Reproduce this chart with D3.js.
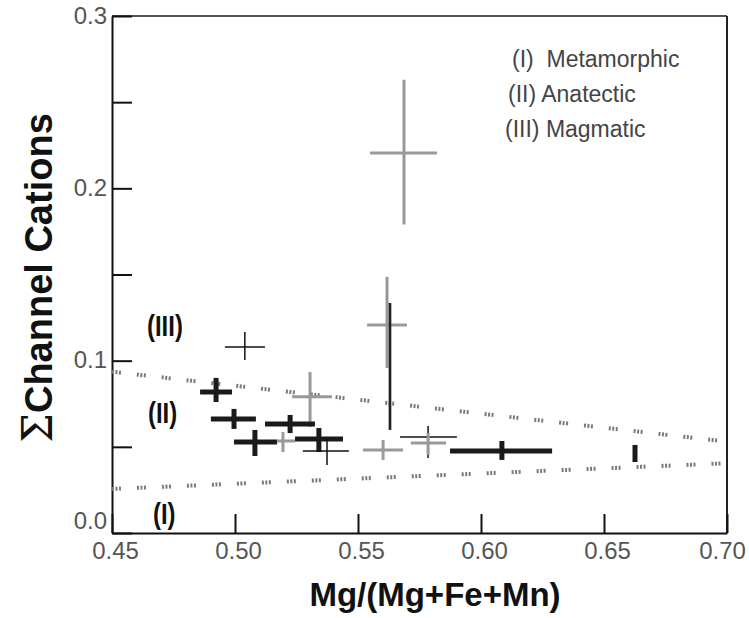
<!DOCTYPE html>
<html><head><meta charset="utf-8">
<script src="https://cdn.jsdelivr.net/npm/d3@7"></script>
<style>body{margin:0;background:#fff}svg{display:block}</style>
</head><body>
<script>
// ---- data ----
const xCenter = [0.5687,0.5618,0.5630,0.5040,0.4923,0.5305,0.4996,0.5224,0.5081,0.5195,0.5341,0.5374,0.5602,0.5785,0.5785,0.6085,0.6626];
const xLow    = [0.5549,0.5537,0.5630,0.4959,0.4858,0.5232,0.4902,0.5122,0.4996,0.5170,0.5244,0.5276,0.5520,0.5671,0.5715,0.5874,0.6626];
const xHigh   = [0.5821,0.5699,0.5630,0.5122,0.4988,0.5394,0.5085,0.5325,0.5171,0.5244,0.5439,0.5463,0.5683,0.5902,0.5858,0.6289,0.6626];
const yCenter = [0.2205,0.1207,0.0970,0.1080,0.0818,0.0790,0.0662,0.0633,0.0528,0.0534,0.0546,0.0476,0.0482,0.0557,0.0522,0.0476,0.0464];
const yLow    = [0.1790,0.0958,0.0598,0.1004,0.0760,0.0615,0.0604,0.0580,0.0447,0.0470,0.0470,0.0395,0.0424,0.0435,0.0453,0.0424,0.0412];
const yHigh   = [0.2630,0.1486,0.1335,0.1167,0.0900,0.0934,0.0720,0.0685,0.0598,0.0586,0.0609,0.0546,0.0540,0.0621,0.0580,0.0534,0.0511];
const sampleGroup = ["g","g","m","t","k","g","k","k","k","g","k","t","g","t","g","k","k"];
const upperBoundary = [[0.45,0.0936],[0.70,0.0530]];
const lowerBoundary = [[0.45,0.0256],[0.70,0.0405]];
const xTicks = [0.45,0.50,0.55,0.60,0.65,0.70];
const yTicks = [0,0.05,0.10,0.15,0.20,0.25,0.30];
const yLabelled = [0,0.1,0.2,0.3];
const legendLabels = ["(I)  Metamorphic","(II) Anatectic","(III) Magmatic"];
const regionLabels = ["(III)","(II)","(I)"];

// ---- layout ----
const W=749,H=618;
const svg=d3.select("body").append("svg").attr("width",W).attr("height",H);
const x=d3.scaleLinear().domain([0.45,0.70]).range([112,727]);
const y=d3.scaleLinear().domain([0,0.30]).range([533,16]);
const sans="'Liberation Sans', Arial, sans-serif";

// frame
svg.append("line").attr("x1",x(0.45)).attr("x2",x(0.70)).attr("y1",y(0.3)).attr("y2",y(0.3)).attr("stroke","#555").attr("stroke-width",2);
svg.append("line").attr("x1",x(0.70)).attr("x2",x(0.70)).attr("y1",y(0.3)).attr("y2",y(0)).attr("stroke","#222").attr("stroke-width",2);

// axes
const xAxis=d3.axisBottom(x).tickValues(xTicks).tickSizeInner(-19).tickSizeOuter(0).tickPadding(0).tickFormat(d3.format(".2f"));
const gx=svg.append("g").attr("transform",`translate(0,${y(0)})`).call(xAxis);
gx.select(".domain").attr("stroke","#111").attr("stroke-width",2);
gx.selectAll(".tick line").attr("stroke","#111").attr("stroke-width",2);
gx.selectAll(".tick text").attr("font-family",sans).attr("font-size",24).attr("fill","#555")
  .attr("dy",null).attr("y",26).attr("dx",d=>d>=0.699?-5:3);

const yAxis=d3.axisLeft(y).tickValues(yTicks).tickSizeInner(-20).tickSizeOuter(0).tickPadding(0)
  .tickFormat(d=>yLabelled.some(v=>Math.abs(v-d)<1e-9)?d3.format(".1f")(d):"");
const gy=svg.append("g").attr("transform",`translate(${x(0.45)},0)`).call(yAxis);
gy.select(".domain").attr("stroke","#111").attr("stroke-width",2);
gy.selectAll(".tick line").attr("stroke","#111").attr("stroke-width",2);
gy.selectAll(".tick text").attr("font-family",sans).attr("font-size",24).attr("fill","#555")
  .attr("x",-5).attr("dy",d=>d===0?"-0.2em":"0.3em");

// boundary lines
const line=d3.line().x(d=>x(d[0])).y(d=>y(d[1]));
[upperBoundary,lowerBoundary].forEach(b=>{
  svg.append("path").attr("d",line(b)).attr("fill","none").attr("stroke","#7a7a7a")
    .attr("stroke-width",4).attr("stroke-dasharray","2,1.5,2,1.5,2,16");
});

// error crosses
const styles={g:{c:"#999",w:3},m:{c:"#222",w:2.7},t:{c:"#111",w:1.5},k:{c:"#1a1a1a",w:5}};
const idx=d3.range(xCenter.length);
const gp=svg.append("g");
idx.forEach(i=>{
  const s=styles[sampleGroup[i]];
  if(xHigh[i]>xLow[i]) gp.append("line").attr("x1",x(xLow[i])).attr("x2",x(xHigh[i])).attr("y1",y(yCenter[i])).attr("y2",y(yCenter[i]))
    .attr("stroke",s.c).attr("stroke-width",s.w);
  gp.append("line").attr("x1",x(xCenter[i])).attr("x2",x(xCenter[i])).attr("y1",y(yLow[i])).attr("y2",y(yHigh[i]))
    .attr("stroke",s.c).attr("stroke-width",s.w);
});

// legend
const legX=[512,508,505], legY=[67,102,137];
legendLabels.forEach((t,i)=>{
  svg.append("text").attr("x",legX[i]).attr("y",legY[i]).attr("font-family",sans).attr("font-size",23)
    .attr("fill","#444").attr("xml:space","preserve").style("white-space","pre").text(t);
});
// region labels
const regX=[147,148,153], regY=[336,423,524];
regionLabels.forEach((t,i)=>{
  svg.append("text").attr("x",regX[i]).attr("y",regY[i]).attr("font-family",sans).attr("font-weight","bold")
    .attr("font-size",26).attr("fill","#111").attr("transform",`translate(${regX[i]},${regY[i]}) scale(0.92,1.1) translate(${-regX[i]},${-regY[i]})`).text(t);
});

// axis titles
svg.append("text").attr("x",435).attr("y",606).attr("text-anchor","middle").attr("font-family",sans)
  .attr("font-weight","bold").attr("font-size",33).attr("fill","#111").text("Mg/(Mg+Fe+Mn)");
const yt=svg.append("text").attr("transform","translate(52,278) rotate(-90)").attr("text-anchor","middle")
  .attr("font-family",sans).attr("font-weight","bold").attr("font-size",38).attr("fill","#111");
yt.append("tspan").attr("font-family","'DejaVu Serif','Liberation Serif',serif").attr("font-weight","normal").attr("font-size",42).text("Σ");
yt.append("tspan").text("Channel Cations");
</script>
</body></html>
